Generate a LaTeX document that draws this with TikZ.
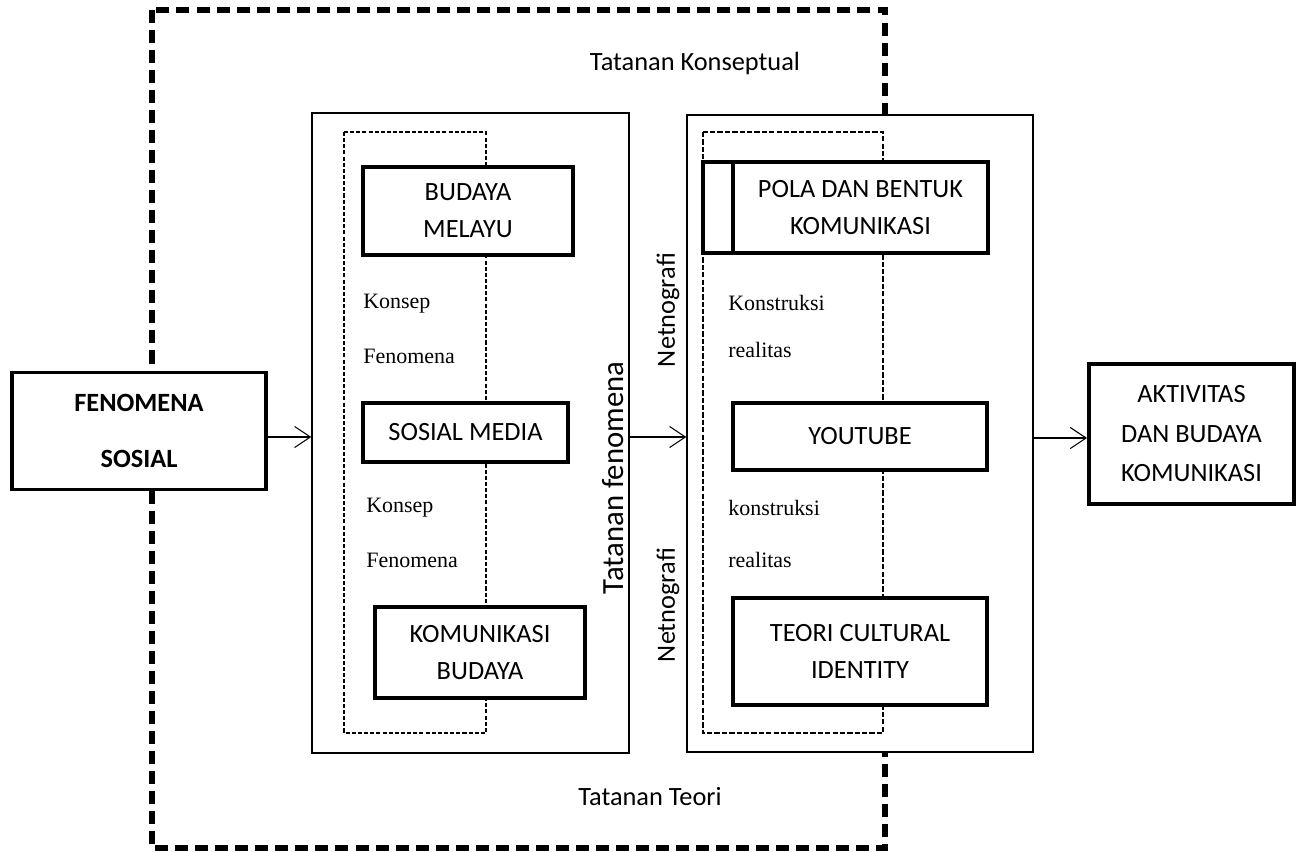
\documentclass[tikz,border=0pt]{standalone}
\usepackage{fontspec}
\setmainfont{Carlito}
\newfontfamily\timesfont{Liberation Serif}
\usepackage{tikz}
\usetikzlibrary{arrows.meta, positioning}
\tikzset{%
	outerframe/.style = {
		draw=black, line width=3.4pt,
		dash pattern=on 7.4pt off 4pt
	},
	frame/.style = {
		rectangle, draw=black, fill=white,
		line width=0.8pt, inner sep=0pt
	},
	innerdash/.style = {
		draw=black, line width=0.6pt,
		dash pattern=on 2.3pt off 1.2pt
	},
	base/.style = {
		rectangle, draw=black, fill=white,
		line width=2.3pt, inner sep=0pt, align=center
	},
	note/.style = {
		font=\timesfont\fontsize{12.5}{15}\selectfont,
		anchor=west, inner sep=0pt
	},
	sidelabel/.style = {
		rotate=90, inner sep=0pt
	},
	flow/.style = {
		line width=0.6pt,
		-{Straight Barb[length=9pt, width=12pt]}
	}
}

\begin{document}
\begin{tikzpicture}[x=0.02cm, y=-0.02cm, font=\fontsize{15}{18}\selectfont]
    \useasboundingbox (0,0) rectangle (1300,851);

    % Tatanan konseptual / teori (outer dashed frame)
    \draw[outerframe] (152,10) rectangle (885,848);
    \node (konseptual) at (695,63) {Tatanan Konseptual};
    \node (teori)      at (650,797) {Tatanan Teori};

    % Specification of frames
    \node (leftframe)  [frame, minimum width=6.34cm, minimum height=12.8cm]  at (470.5,433) {};
    \node (rightframe) [frame, minimum width=6.92cm, minimum height=12.74cm] at (860,433.5) {};
    \draw[innerdash] (344,132) rectangle (486,733);
    \draw[innerdash, line width=1.1pt, dash pattern=on 3pt off 1.2pt] (703,132) rectangle (883,733);

    % Specification of nodes (position, etc.)
    \node (fenomena) [base, line width=2pt, minimum width=5.08cm, minimum height=2.34cm, font=\fontsize{15}{18}\selectfont\bfseries] at (139,431) {FENOMENA\\[14pt]SOSIAL};
    \node (budaya)   [base, minimum width=4.2cm, minimum height=1.76cm]  at (468,211)     {BUDAYA\\[3pt]MELAYU};
    \node (sosmed)   [base, minimum width=4.1cm, minimum height=1.18cm]  at (465.5,432.5) {SOSIAL MEDIA};
    \node (kombud)   [base, minimum width=4.2cm, minimum height=1.82cm]  at (480,652.5)   {KOMUNIKASI\\[3pt]BUDAYA};
    \node (polatab)  [base, minimum width=0.6cm, minimum height=1.82cm]  at (718,207.5)   {};
    \node (pola)     [base, minimum width=5.1cm, minimum height=1.82cm]  at (860.5,207.5) {POLA DAN BENTUK\\[3pt]KOMUNIKASI};
    \node (youtube)  [base, minimum width=5.08cm, minimum height=1.34cm] at (860,436.5)   {YOUTUBE};
    \node (identity) [base, minimum width=5.08cm, minimum height=2.14cm] at (860,651.5)   {TEORI CULTURAL\\[3pt]IDENTITY};
    \node (aktivitas)[base, minimum width=4.1cm, minimum height=2.8cm]   at (1191.5,434)  {AKTIVITAS\\[4.5pt]DAN BUDAYA\\[4.5pt]KOMUNIKASI};

    % Keterangan
    \node (konsep1)  [note] at (363,304) {Konsep};
    \node (fen1)     [note] at (363,356) {Fenomena};
    \node (konsep2)  [note] at (366,508) {Konsep};
    \node (fen2)     [note] at (366,560) {Fenomena};
    \node (konstr1)  [note] at (728,303) {Konstruksi};
    \node (real1)    [note] at (728,350) {realitas};
    \node (konstr2)  [note] at (728,508) {konstruksi};
    \node (real2)    [note] at (728,560) {realitas};

    \node (tfenomena) [sidelabel, font=\fontsize{17.5}{20}\selectfont] at (613,478) {Tatanan fenomena};
    \node (netno1)    [sidelabel] at (668,310) {Netnografi};
    \node (netno2)    [sidelabel] at (668,605) {Netnografi};

    % Arrows
    \coordinate (level1) at (0,437);
    \coordinate (level2) at (0,438);
    \draw[flow] (fenomena.east |- level1) -- (leftframe.west |- level1);
    \draw[flow] (leftframe.east |- level1) -- (rightframe.west |- level1);
    \draw[flow] (rightframe.east |- level2) -- (aktivitas.west |- level2);

\end{tikzpicture}
\end{document}
